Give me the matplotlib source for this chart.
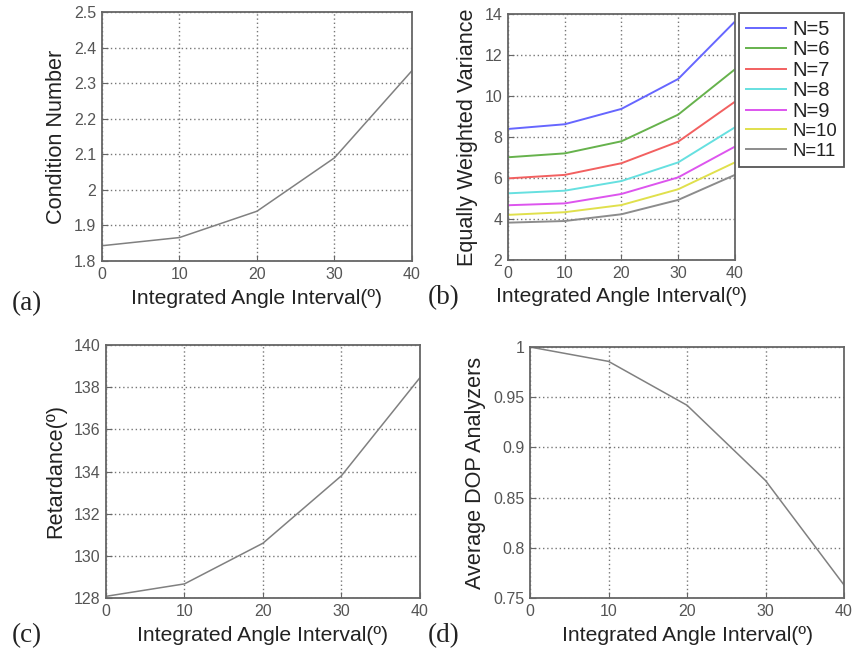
import numpy as np
import matplotlib.pyplot as plt
from matplotlib.ticker import FormatStrFormatter

# data
angleInterval = [0, 10, 20, 30, 40]

conditionNumber = [1.843, 1.866, 1.940, 2.090, 2.335]

varianceLabels = ["N=5", "N=6", "N=7", "N=8", "N=9", "N=10", "N=11"]
varianceN5 = [8.39, 8.62, 9.37, 10.83, 13.63]
varianceN6 = [7.01, 7.20, 7.79, 9.09, 11.30]
varianceN7 = [5.98, 6.15, 6.72, 7.77, 9.72]
varianceN8 = [5.25, 5.38, 5.85, 6.76, 8.47]
varianceN9 = [4.67, 4.76, 5.22, 6.03, 7.53]
varianceN10 = [4.20, 4.33, 4.68, 5.45, 6.76]
varianceN11 = [3.82, 3.90, 4.23, 4.93, 6.15]

retardance = [128.08, 128.67, 130.6, 133.8, 138.45]

averageDop = [1.0, 0.9857, 0.942, 0.867, 0.763]

xLabelText = "Integrated Angle Interval(\u00ba)"
lineColors = ["#6666ff", "#66b24c", "#f26060", "#66e0e0", "#dd55ee", "#e0e04c", "#8c8c8c"]


def styleAxes(ax, yTicks, yLabel, fmt="%g"):
    ax.set_xlim(0, 40)
    ax.set_xticks(angleInterval)
    ax.set_ylim(yTicks[0], yTicks[-1])
    ax.set_yticks(yTicks)
    ax.yaxis.set_major_formatter(FormatStrFormatter(fmt))
    ax.grid(True, linestyle=(0, (1, 2)), color="#777777", linewidth=1.0)
    for spine in ax.spines.values():
        spine.set_color("#666666")
        spine.set_linewidth(1.3)
    ax.tick_params(direction="in", length=4, width=0.8, colors="#666666",
                   labelcolor="#555555", labelsize=11.5, pad=4)
    ax.set_xlabel(xLabelText, fontsize=15.2, color="#222222", labelpad=5)
    ax.set_ylabel(yLabel, fontsize=15.6, color="#222222", labelpad=5)


def main():
    plt.rcParams["font.family"] = ["Liberation Sans", "DejaVu Sans"]
    fig = plt.figure(figsize=(8.52, 6.56), dpi=100)

    # (a) condition number
    axA = fig.add_axes([0.1197, 0.6021, 0.3638, 0.3796])
    axA.plot(angleInterval, conditionNumber, color="#808080", linewidth=1.1)
    styleAxes(axA, np.round(np.arange(1.8, 2.51, 0.1), 1), "Condition Number")

    # (b) equally weighted variance
    axB = fig.add_axes([0.5962, 0.6037, 0.2664, 0.3750])
    allVariance = [varianceN5, varianceN6, varianceN7, varianceN8,
                   varianceN9, varianceN10, varianceN11]
    for values, label, color in zip(allVariance, varianceLabels, lineColors):
        axB.plot(angleInterval, values, color=color, linewidth=1.4, label=label)
    styleAxes(axB, [2, 4, 6, 8, 10, 12, 14], "Equally Weighted Variance")
    leg = axB.legend(loc="upper left", bbox_to_anchor=(0.8674, 0.9802),
                     bbox_transform=fig.transFigure, borderaxespad=0,
                     fontsize=14.5, handlelength=2.0, labelspacing=0.07,
                     handletextpad=0.3, borderpad=0.35, fancybox=False,
                     framealpha=1)
    leg.get_frame().set_edgecolor("#555555")
    leg.get_frame().set_linewidth(1.3)
    for text in leg.get_texts():
        text.set_color("#222222")
    for text in leg.get_texts()[5:]:
        text.set_fontsize(13.3)

    # (c) retardance
    axC = fig.add_axes([0.1244, 0.0884, 0.3685, 0.3857])
    axC.plot(angleInterval, retardance, color="#808080", linewidth=1.1)
    styleAxes(axC, [128, 130, 132, 134, 136, 138, 140], "Retardance(\u00ba)")

    # (d) average DOP
    axD = fig.add_axes([0.6221, 0.0884, 0.3685, 0.3826])
    axD.plot(angleInterval, averageDop, color="#808080", linewidth=1.1)
    styleAxes(axD, [0.75, 0.8, 0.85, 0.9, 0.95, 1.0], "Average DOP Analyzers")

    # panel letters
    letterFont = dict(fontsize=19.5, family=["Liberation Serif", "DejaVu Serif"],
                      color="#222222", va="center", ha="left")
    fig.text(12 / 852, 1 - 304 / 656, "(a)", **letterFont)
    fig.text(428 / 852, 1 - 298 / 656, "(b)", **letterFont)
    fig.text(12 / 852, 1 - 636 / 656, "(c)", **letterFont)
    fig.text(428 / 852, 1 - 636 / 656, "(d)", **letterFont)

    fig.savefig("out.png", dpi=100)
    plt.close(fig)


main()
